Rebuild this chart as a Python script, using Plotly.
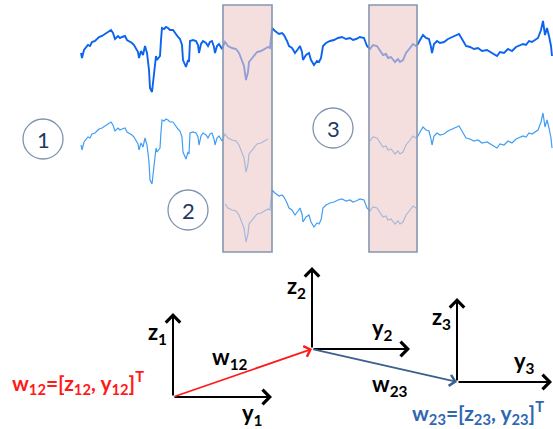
import plotly.graph_objects as go

# ---- signal (time units, depth units; larger depth = lower on the page) ----
sig_t = [81, 82, 84, 86, 88, 90, 92, 95, 97, 99, 102, 105, 108, 111, 113, 115, 118, 120, 122, 125,
         127, 129, 132, 134, 136, 138, 139, 141, 143, 145, 147, 149, 150, 152, 154, 156, 157, 160,
         161, 162, 164, 166, 168, 170, 173, 175, 176, 178, 180, 182, 183, 185, 186, 188, 189, 190,
         193, 196, 198, 199, 201, 203, 206, 208, 210, 212, 214, 215, 217, 219, 221, 222, 225,
         228, 232, 236, 239, 242, 244, 246, 248, 249, 252, 254, 257, 261, 264, 266, 268, 270, 271, 272,
         275, 279, 282, 284, 287, 289, 292, 295, 298, 300, 302, 303, 306, 309, 311, 314, 317, 319, 321,
         323, 326, 330, 334, 338, 342, 346, 350, 353, 356, 360, 364, 367,
         370, 373, 377, 380, 383, 386, 388, 391, 395, 398, 400, 403, 406, 410, 413, 416, 418,
         420, 423, 426, 429, 431, 432, 434, 437, 440, 444, 448, 453, 456, 459, 462, 466, 470, 474,
         478, 482, 487, 492, 497, 500, 504, 508, 512, 516, 519, 523, 526, 529, 532, 536, 538, 541,
         543, 545, 547, 549, 551, 552]
sig_d = [53, 58, 50, 48, 45, 46, 42, 41, 39, 37, 36, 34, 32, 30, 33, 39, 36, 38, 37, 36,
         40, 41, 43, 45, 48, 52, 58, 51, 55, 46, 53, 70, 88, 92, 74, 56, 60, 56,
         40, 28, 29, 27, 28, 30, 30, 33, 35, 37, 39, 45, 60, 64, 67, 60, 62, 41,
         40, 41, 45, 53, 44, 41, 43, 46, 42, 41, 47, 53, 46, 44, 48, 49, 42,
         46, 48, 49, 53, 60, 66, 80, 72, 62, 58, 55, 52, 51, 49, 48, 47, 48, 40, 28,
         31, 34, 33, 35, 41, 46, 48, 53, 49, 46, 52, 60, 55, 53, 60, 65, 61, 62, 58,
         46, 43, 41, 40, 38, 37, 39, 38, 40, 39, 37, 38, 46,
         49, 45, 46, 50, 55, 54, 58, 57, 62, 59, 62, 60, 53, 48, 44, 46, 44,
         40, 35, 38, 39, 47, 53, 44, 41, 43, 42, 39, 37, 36, 34, 39, 46, 47, 49,
         48, 51, 50, 53, 56, 52, 53, 49, 51, 47, 46, 44, 45, 41, 42, 39, 38, 30,
         21, 35, 28, 36, 46, 56]

# rows: (depth offset, visible time windows)
row_offsets = [0, 92, 162]
row_windows = [[(81, 552)], [(81, 268), (369, 552)], [(225, 417)]]
row_colors = ["#0b63ee", "#3f9ef4", "#3f9ef4"]
row_widths = [1.9, 1.2, 1.2]

# highlighted windows
win_t0 = [223, 369]
win_t1 = [272, 417]
win_d0, win_d1 = 5, 252

# numbered circles
circ_x = [43, 188, 333]
circ_y = [139, 210, 128]
circ_lab = ["1", "2", "3"]
circ_r = 20

# coordinate frames: origin, z-axis tip, y-axis tip, labels
fr_ox = [173, 312, 457]
fr_oy = [397, 349, 382]
fr_ztip = [313, 267, 298]
fr_ytip = [272, 410, 552]
fr_zlab = ["z<sub>1</sub>", "z<sub>2</sub>", "z<sub>3</sub>"]
fr_ylab = ["y<sub>1</sub>", "y<sub>2</sub>", "y<sub>3</sub>"]
fr_ylab_above = [False, True, True]

fig = go.Figure()

for off, wins, col, wd in zip(row_offsets, row_windows, row_colors, row_widths):
    for (a, b) in wins:
        tt = [t for t in sig_t if a <= t <= b]
        dd = [d + off for t, d in zip(sig_t, sig_d) if a <= t <= b]
        fig.add_trace(go.Scatter(x=tt, y=dd, mode="lines",
                                 line=dict(color=col, width=wd), hoverinfo="skip",
                                 showlegend=False))

shapes = []
for a, b in zip(win_t0, win_t1):
    shapes.append(dict(type="rect", x0=a, x1=b, y0=win_d0, y1=win_d1, xref="x", yref="y",
                       fillcolor="rgba(236,202,200,0.6)", layer="above",
                       line=dict(color="#8497b0", width=1.6)))
for cx, cy in zip(circ_x, circ_y):
    shapes.append(dict(type="circle", x0=cx - circ_r, x1=cx + circ_r, y0=cy - circ_r, y1=cy + circ_r,
                       xref="x", yref="y", line=dict(color="#7f93ad", width=1.3)))

ann = []
for cx, cy, lab in zip(circ_x, circ_y, circ_lab):
    ann.append(dict(x=cx, y=cy, text=lab, showarrow=False,
                    font=dict(family="Lato", size=22, color="#1f3864")))

# frame axes arrows
for ox, oy, zt, yt, zl, yl, up in zip(fr_ox, fr_oy, fr_ztip, fr_ytip, fr_zlab, fr_ylab, fr_ylab_above):
    ann.append(dict(x=ox, y=zt, ax=ox, ay=oy, xref="x", yref="y", axref="x", ayref="y",
                    text="", showarrow=True, arrowhead=4, arrowsize=1.4, arrowwidth=2,
                    arrowcolor="black"))
    ann.append(dict(x=yt, y=oy, ax=ox, ay=oy, xref="x", yref="y", axref="x", ayref="y",
                    text="", showarrow=True, arrowhead=4, arrowsize=1.4, arrowwidth=2,
                    arrowcolor="black"))
    ann.append(dict(x=ox - 4, y=zt + 20, text="<b>" + zl + "</b>", showarrow=False,
                    xanchor="right", yanchor="middle",
                    font=dict(family="Lato", size=22, color="black")))
    if up:
        ann.append(dict(x=yt - 28, y=oy - 3, text="<b>" + yl + "</b>", showarrow=False,
                        xanchor="center", yanchor="bottom",
                        font=dict(family="Lato", size=22, color="black")))
    else:
        ann.append(dict(x=yt - 20, y=oy, text="<b>" + yl + "</b>", showarrow=False,
                        xanchor="center", yanchor="top",
                        font=dict(family="Lato", size=22, color="black")))

# transition vectors
ann.append(dict(x=fr_ox[1], y=fr_oy[1], ax=fr_ox[0], ay=fr_oy[0], xref="x", yref="y",
                axref="x", ayref="y", text="", showarrow=True, arrowhead=4, arrowsize=1.2,
                arrowwidth=1.8, arrowcolor="#ff1a1a"))
ann.append(dict(x=fr_ox[2], y=fr_oy[2], ax=fr_ox[1], ay=fr_oy[1], xref="x", yref="y",
                axref="x", ayref="y", text="", showarrow=True, arrowhead=4, arrowsize=1.2,
                arrowwidth=1.8, arrowcolor="#3b5f8f"))
ann.append(dict(x=230, y=358, text="<b>w<sub>12</sub></b>", showarrow=False,
                font=dict(family="Lato", size=22, color="black")))
ann.append(dict(x=390, y=385, text="<b>w<sub>23</sub></b>", showarrow=False,
                font=dict(family="Lato", size=22, color="black")))
ann.append(dict(x=78, y=382, text="<b>w<sub>12</sub>=[z<sub>12</sub>, y<sub>12</sub>]<sup>T</sup></b>",
                showarrow=False, font=dict(family="Lato", size=21, color="#ff1a1a")))
ann.append(dict(x=478, y=412, text="<b>w<sub>23</sub>=[z<sub>23</sub>, y<sub>23</sub>]<sup>T</sup></b>",
                showarrow=False, font=dict(family="Lato", size=21, color="#2f68b0")))

fig.update_layout(width=553, height=429, margin=dict(l=0, r=0, t=0, b=0),
                  paper_bgcolor="white", plot_bgcolor="white",
                  xaxis=dict(range=[0, 553], visible=False, fixedrange=True),
                  yaxis=dict(range=[429, 0], visible=False, fixedrange=True),
                  shapes=shapes, annotations=ann, showlegend=False)

fig.write_html("out.html", config={"displayModeBar": False},
               post_script="document.body.style.margin='0';document.body.style.overflow='hidden';")
